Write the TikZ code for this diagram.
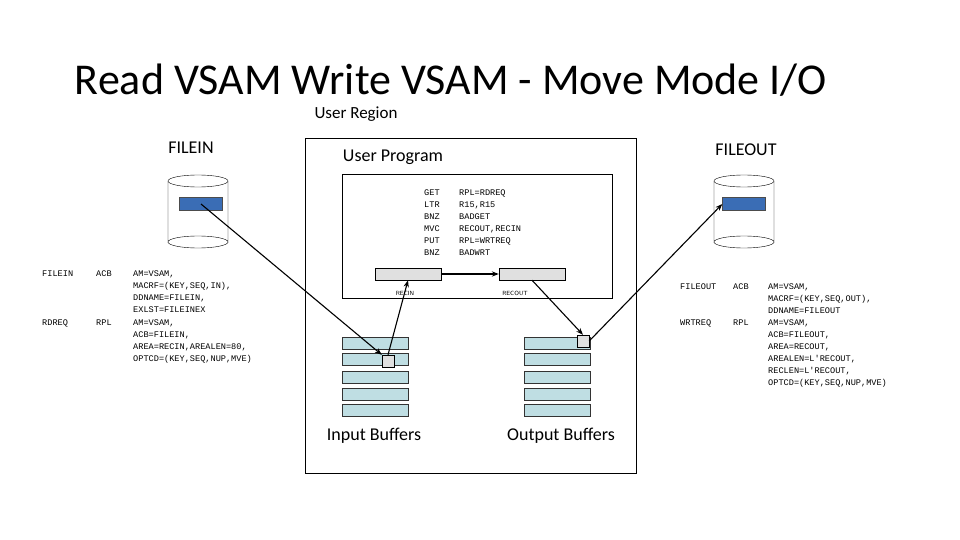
\documentclass[tikz,border=0pt]{standalone}
\usepackage{fontspec}
\setmainfont{Carlito}
\setmonofont{Liberation Mono}
\usetikzlibrary{arrows.meta}
\definecolor{bufcol}{HTML}{BFDEE3}
\definecolor{diskblue}{HTML}{3A6DB5}
\begin{document}
\begin{tikzpicture}[x=1pt,y=-1pt,
  buf/.style={draw=black!80,fill=bufcol},
  bar/.style={draw=black,fill=black!12},
  sq/.style={draw=black,fill=black!12,minimum size=12pt,inner sep=0pt},
  blue rect/.style={draw=black!70,fill=diskblue},
  code/.style={font=\ttfamily\fontsize{8.6}{9}\selectfont,anchor=base west,inner sep=0pt},
  lbl/.style={font=\fontsize{18}{20}\selectfont},
  conn/.style={line width=1.1pt,-{Stealth[length=7pt]}}]
\useasboundingbox (0,0) rectangle (960,540);
\node[font=\fontsize{44}{48}\selectfont] (title) at (451,80) {Read VSAM Write VSAM - Move Mode I/O};
\node[font=\fontsize{17}{19}\selectfont] (region) at (356,114) {User Region};
\node[lbl] (filein) at (191,148) {FILEIN};
\node[lbl] (fileout) at (746,150) {FILEOUT};
% user program box
\draw (305,138) rectangle (636,473);
\node[lbl] (uprog) at (393,157) {User Program};
\draw (342,174) rectangle (612,298);
\foreach \op/\arg [count=\i] in {GET/RPL=RDREQ,LTR/{R15,R15},BNZ/BADGET,MVC/{RECOUT,RECIN},PUT/RPL=WRTREQ,BNZ/BADWRT}{
  \node[code] at (424,183+12*\i) {\op};
  \node[code] at (459,183+12*\i) {\arg};
}
\node[bar,minimum width=66pt,minimum height=12pt,inner sep=0pt] (recin) at (408,274) {};
\node[bar,minimum width=66pt,minimum height=12pt,inner sep=0pt] (recout) at (532,274) {};
\node[font=\sffamily\fontsize{6}{7}\selectfont] at (405,293) {RECIN};
\node[font=\sffamily\fontsize{6}{7}\selectfont] at (515,293) {RECOUT};
% buffers
\foreach \y in {337,353,371,388,404}{
  \draw[buf] (342,\y) rectangle (408,\y+12);
  \draw[buf] (524,\y) rectangle (590,\y+12);
}
\node[sq] (insq) at (388,361) {};
\node[sq] (outsq) at (583,341) {};
\node[lbl] (ib) at (374,436) {Input Buffers};
\node[lbl] (ob) at (561,436) {Output Buffers};
% cylinders
\foreach \cx in {198,744}{
  \draw[fill=white] (\cx-30,181) -- (\cx-30,242) arc[start angle=180,end angle=360,x radius=30,y radius=6] -- (\cx+30,181);
  \draw (\cx-30,242) arc[start angle=180,end angle=0,x radius=30,y radius=6];
  \draw (\cx,181) ellipse[x radius=30,y radius=6];
}
\node[blue rect,minimum width=43pt,minimum height=13pt,inner sep=0pt] (bin) at (201,204) {};
\node[blue rect,minimum width=43pt,minimum height=13pt,inner sep=0pt] (bout) at (744,204) {};
% connectors
\draw[conn] (recin.east) -- (recout.west);
\draw[conn] (bin.center) -- (insq.north west);
\draw[conn] (insq.north) -- (recin.south);
\draw[conn] (recout.south) -- (outsq.north);
\draw[conn] (outsq.east) -- (bout.west);
% left declarations
\foreach \t/\u/\v [count=\i] in {FILEIN/ACB/{AM=VSAM,},//{MACRF=(KEY,SEQ,IN),},//{DDNAME=FILEIN,},//EXLST=FILEINEX,RDREQ/RPL/{AM=VSAM,},//{ACB=FILEIN,},//{AREA=RECIN,AREALEN=80,},//{OPTCD=(KEY,SEQ,NUP,MVE)}}{
  \node[code] at (42,264+12.2*\i) {\t};
  \node[code] at (96,264+12.2*\i) {\u};
  \node[code] at (133,264+12.2*\i) {\v};
}
\foreach \t/\u/\v [count=\i] in {FILEOUT/ACB/{AM=VSAM,},//{MACRF=(KEY,SEQ,OUT),},//DDNAME=FILEOUT,WRTREQ/RPL/{AM=VSAM,},//{ACB=FILEOUT,},//{AREA=RECOUT,},//{AREALEN=L'RECOUT,},//{RECLEN=L'RECOUT,},//{OPTCD=(KEY,SEQ,NUP,MVE)}}{
  \node[code] at (680,277+12*\i) {\t};
  \node[code] at (733,277+12*\i) {\u};
  \node[code] at (768,277+12*\i) {\v};
}
\end{tikzpicture}
\end{document}
